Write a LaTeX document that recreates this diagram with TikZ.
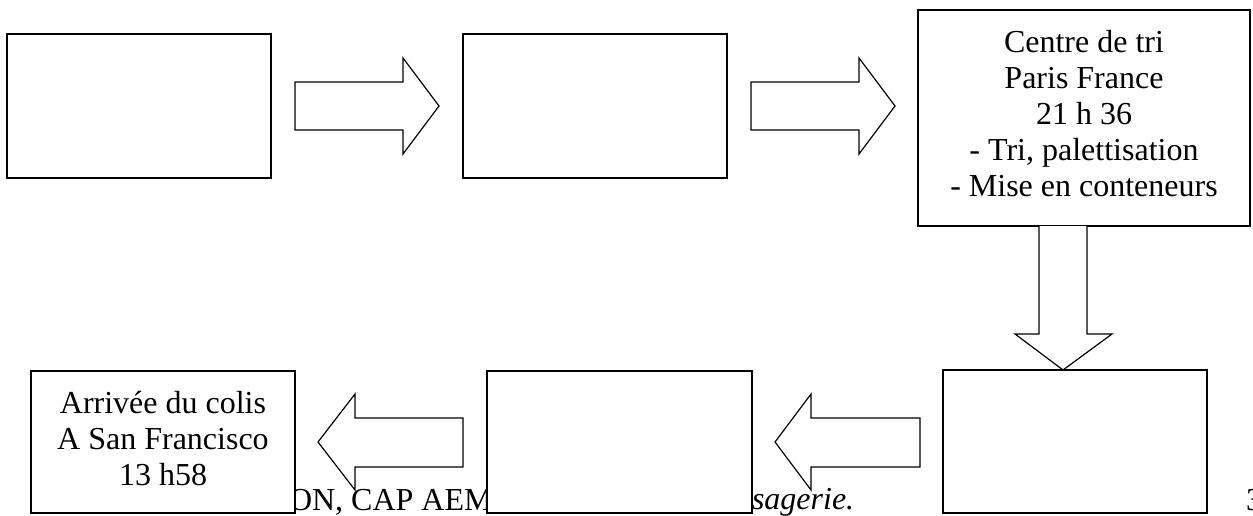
\documentclass[tikz,border=0pt]{standalone}
\usepackage{fontspec}
\setmainfont{Liberation Serif}
\begin{document}
\begin{tikzpicture}[x=1pt,y=-1pt,
  box/.style={draw=black,line width=1.2pt,fill=white,rectangle,inner sep=0pt,outer sep=0pt},
  blockarrow/.style={draw=black,line width=1.2pt,fill=white,line join=miter},
  txt/.style={inner sep=0pt,outer sep=0pt,align=center,font=\fontsize{32}{36}\selectfont},
  foot/.style={inner sep=0pt,outer sep=0pt,font=\fontsize{32}{36}\selectfont}]
\useasboundingbox (0,0) rectangle (1253,515);
% footer text (partly hidden behind the boxes)
\node[foot,anchor=base west] (f1) at (289,510) {ON, CAP AEM};
\node[foot,anchor=base west] (f2) at (752,509) {\itshape sagerie.};
\node[foot,anchor=base west] (f3) at (1246,510) {3};
% boxes
\node[box,minimum width=264pt,minimum height=144pt] (b1) at (139,106) {};
\node[box,minimum width=264pt,minimum height=144pt] (b2) at (595,106) {};
\node[box,minimum width=332pt,minimum height=216pt] (b3) at (1084,118) {};
\node[box,minimum width=264pt,minimum height=143pt] (b4) at (1075,441.5) {};
\node[box,minimum width=265pt,minimum height=142pt] (b5) at (619.5,442) {};
\node[box,minimum width=264pt,minimum height=142pt] (b6) at (163,442) {};
% texts
\node[txt] (t3) at (1084,113.5) {Centre de tri\\Paris France\\21 h 36\\- Tri, palettisation\\- Mise en conteneurs};
\node[txt] (t6) at (163,438.5) {Arrivée du colis\\A San Francisco\\13 h58};
% block arrows
\coordinate (dtop) at (b3.south);
\coordinate (dtip) at (b4.north);
\draw[blockarrow] (295,82) -- (403,82) -- (403,58) -- (439,106) -- (403,154) -- (403,130) -- (295,130) -- cycle;
\draw[blockarrow] (751,82) -- (859,82) -- (859,58) -- (895,106) -- (859,154) -- (859,130) -- (751,130) -- cycle;
\draw[blockarrow] (dtop -| 1039,0) -- (1039,334) -- (1015,334) -- (dtip -| 1063,0) -- (1112,334) -- (1087,334) -- (dtop -| 1087,0);
\draw[blockarrow] (920,418) -- (811,418) -- (811,394) -- (775,442) -- (811,490) -- (811,467) -- (920,467) -- cycle;
\draw[blockarrow] (463,418) -- (355,418) -- (355,394) -- (318,442) -- (355,490) -- (355,467) -- (463,467) -- cycle;
\end{tikzpicture}
\end{document}
